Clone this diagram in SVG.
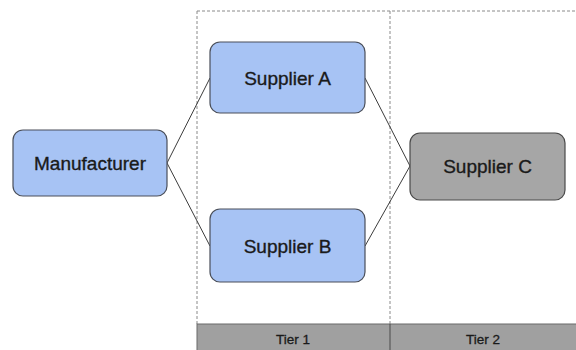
<svg xmlns="http://www.w3.org/2000/svg" width="576" height="350" viewBox="0 0 576 350">
  <style>
    .lane { fill: none; stroke: #8a8a8a; stroke-width: 1; stroke-dasharray: 3 2; }
    .band { fill: #a0a0a0; stroke: #6a6a6a; stroke-width: 1; }
    .blue { fill: #a7c3f4; stroke: #4a4f5a; stroke-width: 1.2; }
    .gray { fill: #a6a6a6; stroke: #4a4a4a; stroke-width: 1.2; }
    .label { font-family: "Liberation Sans", Arial, sans-serif; font-size: 19px; fill: #1a1a1a; stroke: #1a1a1a; stroke-width: 0.35; text-anchor: middle; dominant-baseline: central; }
    .tier { font-family: "Liberation Sans", Arial, sans-serif; font-size: 13.5px; fill: #1a1a1a; stroke: #1a1a1a; stroke-width: 0.3; text-anchor: middle; dominant-baseline: central; }
    .edge { fill: none; stroke: #3c3c3c; stroke-width: 1; }
  </style>

  <rect width="576" height="350" fill="#ffffff"/>

  <!-- tier lanes -->
  <g id="lanes">
    <line class="lane" x1="197" y1="11" x2="576" y2="11"/>
    <line class="lane" x1="197" y1="11" x2="197" y2="324"/>
    <line class="lane" x1="390" y1="11" x2="390" y2="324"/>
    <rect class="band" x="197" y="324" width="380" height="27"/>
    <line x1="390" y1="324" x2="390" y2="350" stroke="#4a4a4a" stroke-width="1"/>
    <text class="tier" x="293" y="339">Tier 1</text>
    <text class="tier" x="483" y="339">Tier 2</text>
  </g>

  <!-- connectors -->
  <g id="connectors">
    <line class="edge" x1="167" y1="163" x2="210" y2="78"/>
    <line class="edge" x1="167" y1="163" x2="210" y2="246"/>
    <line class="edge" x1="365" y1="78" x2="410" y2="166"/>
    <line class="edge" x1="365" y1="246" x2="410" y2="166"/>
  </g>

  <g id="manufacturer">
    <rect class="blue" x="13" y="130" width="154" height="66" rx="10"/>
    <text class="label" x="90" y="163">Manufacturer</text>
  </g>

  <g id="supplier-a">
    <rect class="blue" x="210" y="42" width="155" height="71" rx="10"/>
    <text class="label" x="287.5" y="78">Supplier A</text>
  </g>

  <g id="supplier-b">
    <rect class="blue" x="210" y="209" width="155" height="73" rx="10"/>
    <text class="label" x="287.5" y="246">Supplier B</text>
  </g>

  <g id="supplier-c">
    <rect class="gray" x="410" y="133" width="155" height="67" rx="10"/>
    <text class="label" x="487.5" y="166">Supplier C</text>
  </g>
</svg>
